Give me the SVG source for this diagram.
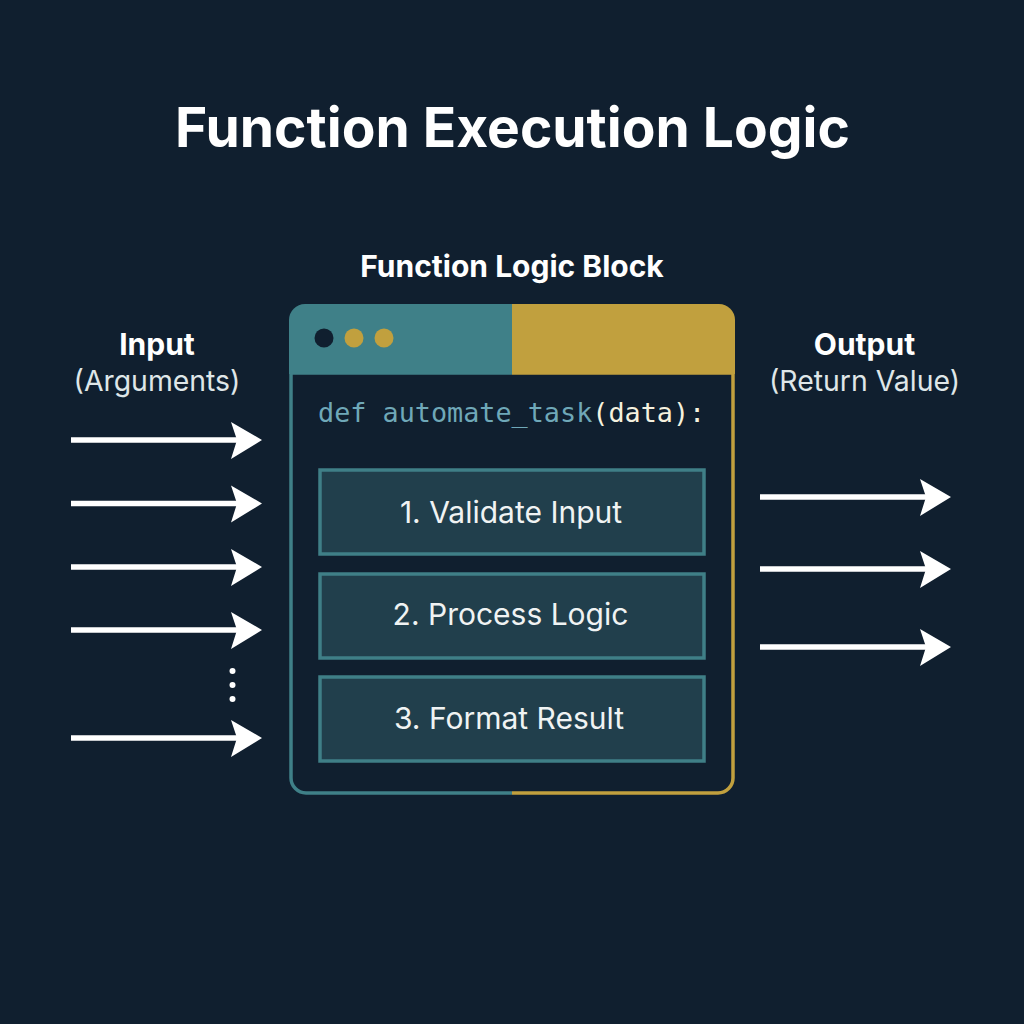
<svg xmlns="http://www.w3.org/2000/svg" width="1024" height="1024" viewBox="0 0 1024 1024">
<defs><style>
.t{font-family:"Inter","Liberation Sans",sans-serif;fill:#fff}
.b{font-weight:700;fill:#fff}
.r{font-size:28.400px;fill:#dfe6e8}
.s{fill:#213f4c;stroke:#3f7f87;stroke-width:3.500}
.st{font-size:30px;fill:#f0f3f3;text-anchor:middle}
.a{stroke:#fff;stroke-width:5.500;fill:none}
.h{fill:#fff}
</style></defs>
<rect width="1024" height="1024" fill="#101f2f"/>
<text class="t b" x="512.500" y="147" font-size="55.100" text-anchor="middle">Function Execution Logic</text>
<text class="t b" x="512" y="277" font-size="30" text-anchor="middle">Function Logic Block</text>
<g id="input-label"><text class="t b" x="157" y="355" font-size="30" text-anchor="middle">Input</text><text class="t r" x="157" y="391" text-anchor="middle">(Arguments)</text></g>
<g id="output-label"><text class="t b" x="864.500" y="355" font-size="30" text-anchor="middle">Output</text><text class="t r" x="864.500" y="391" text-anchor="middle">(Return Value)</text></g>
<g id="function-block">
<path d="M512 304H305a16 16 0 0 0-16 16V374H512Z" fill="#3f8088"/>
<path d="M512 304H719a16 16 0 0 1 16 16V374H512Z" fill="#c1a03e"/>
<path d="M512 373H291V778a15 15 0 0 0 15 15H512" fill="none" stroke="#3f8088" stroke-width="3.500"/>
<path d="M512 373H733V778a15 15 0 0 1-15 15H512" fill="none" stroke="#c1a03e" stroke-width="3.500"/>
<circle cx="324" cy="338" r="9.500" fill="#101f2f"/><circle cx="354" cy="338" r="9.500" fill="#c1a03e"/><circle cx="384" cy="338" r="9.500" fill="#c1a03e"/>
<text x="318" y="422" font-family="'DejaVu Sans Mono','Liberation Mono',monospace" font-size="26.800" fill="#6fa8b8">def automate_task<tspan fill="#f5f1df">(data):</tspan></text>
</g>
<g id="step-1"><rect class="s" x="320" y="470" width="384" height="84"/><text class="t st" x="511" y="523">1. Validate Input</text></g>
<g id="step-2"><rect class="s" x="320" y="574" width="384" height="84"/><text class="t st" x="510.500" y="625">2. Process Logic</text></g>
<g id="step-3"><rect class="s" x="320" y="677" width="384" height="84"/><text class="t st" x="509" y="729">3. Format Result</text></g>
<g id="connectors">
<path class="a" d="M71 440H240M71 503.500H240M71 567H240M71 630H240M71 738H240M760 497H930M760 569H930M760 647H930"/>
<g class="h">
<path d="M262 440L231 422L237 440L231 459Z"/><path d="M262 503.500L231 485.500L237 503.500L231 522.500Z"/><path d="M262 567L231 549L237 567L231 586Z"/><path d="M262 630L231 612L237 630L231 649Z"/><path d="M262 738L231 720L237 738L231 757Z"/>
<path d="M951 497L920 479L926 497L920 516Z"/><path d="M951 569L920 551L926 569L920 588Z"/><path d="M951 647L920 629L926 647L920 666Z"/>
<circle cx="232.500" cy="671" r="3"/><circle cx="232.500" cy="685" r="3"/><circle cx="232.500" cy="699" r="3"/>
</g></g>
</svg>
